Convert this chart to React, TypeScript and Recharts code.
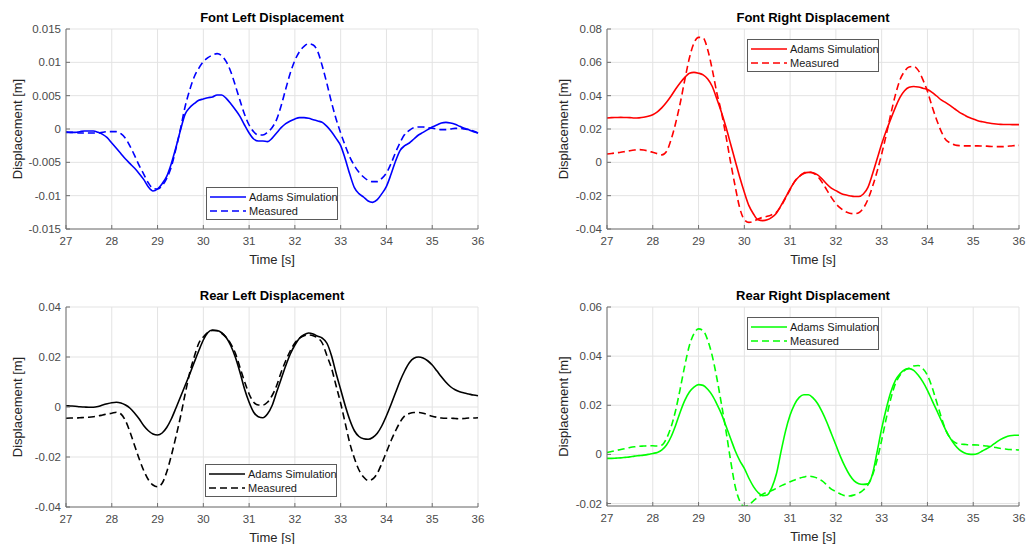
import { LineChart, Line, XAxis, YAxis, CartesianGrid, Legend } from 'recharts'

// time base, seconds
const TIME = [
  27.0, 27.1, 27.2, 27.3, 27.4, 27.5, 27.6, 27.7, 27.8, 27.9,
  28.0, 28.1, 28.2, 28.3, 28.4, 28.5, 28.6, 28.7, 28.8, 28.9,
  29.0, 29.1, 29.2, 29.3, 29.4, 29.5, 29.6, 29.7, 29.8, 29.9,
  30.0, 30.1, 30.2, 30.3, 30.4, 30.5, 30.6, 30.7, 30.8, 30.9,
  31.0, 31.1, 31.2, 31.3, 31.4, 31.5, 31.6, 31.7, 31.8, 31.9,
  32.0, 32.1, 32.2, 32.3, 32.4, 32.5, 32.6, 32.7, 32.8, 32.9,
  33.0, 33.1, 33.2, 33.3, 33.4, 33.5, 33.6, 33.7, 33.8, 33.9,
  34.0, 34.1, 34.2, 34.3, 34.4, 34.5, 34.6, 34.7, 34.8, 34.9,
  35.0, 35.1, 35.2, 35.3, 35.4, 35.5, 35.6, 35.7, 35.8, 35.9,
  36.0,
]
const X_TICKS = [27, 28, 29, 30, 31, 32, 33, 34, 35, 36]

// front left
const FL_SIM = [
  -0.0005, -0.0005, -0.0005, -0.0004, -0.0003, -0.0003, -0.0003, -0.0005, -0.0008, -0.0013,
  -0.0021, -0.0029, -0.0037, -0.0045, -0.0052, -0.0059, -0.0067, -0.0076, -0.0087, -0.0093,
  -0.009, -0.0082, -0.0071, -0.0052, -0.0028, -0.0002, 0.0022, 0.0032, 0.0038, 0.0043,
  0.0045, 0.0047, 0.0048, 0.0051, 0.0051, 0.0046, 0.0038, 0.0029, 0.0019, 0.0006,
  -0.0006, -0.0015, -0.0018, -0.0018, -0.0019, -0.0014, -0.0006, 0.0002, 0.0008, 0.0012,
  0.0015, 0.0017, 0.0017, 0.0016, 0.0014, 0.0012, 0.001, 0.0004, -0.0004, -0.0014,
  -0.0025, -0.0045, -0.0068, -0.0088, -0.0097, -0.0102, -0.0108, -0.011, -0.0106, -0.0097,
  -0.0086, -0.0068, -0.0048, -0.0032, -0.0025, -0.0021, -0.0015, -0.0009, -0.0005, -0.0001,
  0.0003, 0.0006, 0.0009, 0.001, 0.0009, 0.0007, 0.0004, 0.0001, -0.0001, -0.0004,
  -0.0006,
]
const FL_MEAS = [
  -0.0004, -0.0005, -0.0005, -0.0006, -0.0006, -0.0006, -0.0006, -0.0006, -0.0005, -0.0004,
  -0.0004, -0.0004, -0.0007, -0.0014, -0.0026, -0.004, -0.0055, -0.0068, -0.0081, -0.0089,
  -0.009, -0.0085, -0.0074, -0.0057, -0.003, 0, 0.0033, 0.0058, 0.0078, 0.0091,
  0.0101, 0.0107, 0.0111, 0.0113, 0.011, 0.0101, 0.0086, 0.0065, 0.0043, 0.0022,
  0.0006, -0.0004, -0.0009, -0.0009, -0.0005, 0.0002, 0.0014, 0.0035, 0.006, 0.0084,
  0.0103, 0.0116, 0.0124, 0.0128, 0.0126, 0.0116, 0.0094, 0.0068, 0.004, 0.0015,
  -0.0006, -0.0025, -0.0042, -0.0055, -0.0065, -0.0072, -0.0077, -0.0079, -0.0079, -0.0074,
  -0.0066, -0.0052, -0.0035, -0.002, -0.0008, -0.0002, 0.0002, 0.0003, 0.0003, 0.0002,
  0.0001, 0, -0.0001, -0.0001, 0, 0.0001, 0.0001, 0, -0.0001, -0.0003,
  -0.0006,
]
const FL_TICKS = [-0.015, -0.01, -0.005, 0, 0.005, 0.01, 0.015]

// front right
const FR_SIM = [
  0.0266, 0.0268, 0.0269, 0.027, 0.0269, 0.0268, 0.0266, 0.0267, 0.027, 0.0276,
  0.0286, 0.0303, 0.0328, 0.036, 0.0398, 0.044, 0.0478, 0.051, 0.0535, 0.054,
  0.0535, 0.0525, 0.05, 0.0455, 0.038, 0.03, 0.021, 0.011, 0.001, -0.009,
  -0.018, -0.026, -0.031, -0.0345, -0.035, -0.0345, -0.033, -0.0305, -0.026, -0.021,
  -0.016, -0.0115, -0.0085, -0.0067, -0.006, -0.0062, -0.0075, -0.01, -0.013, -0.0155,
  -0.017, -0.0185, -0.0195, -0.02, -0.0205, -0.0205, -0.019, -0.015, -0.007, 0.002,
  0.011, 0.019, 0.026, 0.033, 0.039, 0.043, 0.045, 0.0455, 0.0452, 0.0445,
  0.0437, 0.042, 0.0398, 0.0375, 0.0358, 0.034, 0.032, 0.03, 0.0285, 0.027,
  0.026, 0.025, 0.0243, 0.0237, 0.0233, 0.023, 0.0228, 0.0227, 0.0227, 0.0226,
  0.0226,
]
const FR_MEAS = [
  0.005, 0.0053, 0.0057, 0.006, 0.0065, 0.007, 0.0074, 0.0076, 0.0074, 0.0068,
  0.006, 0.0052, 0.0045, 0.0065, 0.0136, 0.0236, 0.0356, 0.0496, 0.0626, 0.0716,
  0.075, 0.0746, 0.0676, 0.0556, 0.0416, 0.03, 0.0156, 0, -0.0144, -0.0274,
  -0.0344, -0.036, -0.0354, -0.034, -0.033, -0.0324, -0.0314, -0.03, -0.0264, -0.0214,
  -0.0164, -0.0114, -0.0084, -0.0064, -0.0058, -0.0064, -0.0084, -0.012, -0.0165, -0.021,
  -0.0248, -0.0275, -0.0295, -0.0305, -0.0308, -0.0302, -0.0275, -0.0222, -0.0145, -0.0055,
  0.005, 0.0165, 0.029, 0.0405, 0.0495, 0.0546, 0.0572, 0.0576, 0.0552, 0.0496,
  0.0426, 0.0336, 0.0256, 0.0186, 0.0136, 0.0116, 0.0104, 0.01, 0.0099, 0.0099,
  0.0099, 0.0099, 0.0098, 0.0097, 0.0095, 0.0094, 0.0094, 0.0095, 0.0098, 0.01,
  0.0102,
]
const FR_TICKS = [-0.04, -0.02, 0, 0.02, 0.04, 0.06, 0.08]

// rear left
const RL_SIM = [
  0.0005, 0.0004, 0.0003, 0.0001, 0, -0.0001, -0.0001, 0.0002, 0.0008, 0.0013,
  0.0017, 0.0019, 0.0016, 0.0008, -0.0005, -0.0025, -0.0048, -0.0075, -0.0095, -0.0108,
  -0.0112, -0.0104, -0.0082, -0.0048, -0.0005, 0.004, 0.0085, 0.013, 0.0178, 0.0225,
  0.0268, 0.0298, 0.0308, 0.0306, 0.0297, 0.0278, 0.0245, 0.0199, 0.0139, 0.0072,
  0.0019, -0.0021, -0.0039, -0.0043, -0.0028, 0.0005, 0.0059, 0.0112, 0.0165, 0.0212,
  0.0248, 0.0275, 0.0289, 0.0296, 0.0292, 0.0283, 0.0275, 0.0255, 0.0205, 0.0135,
  0.007, 0.0005, -0.0052, -0.0095, -0.0118, -0.0127, -0.0129, -0.0122, -0.0105, -0.0075,
  -0.0035, 0.001, 0.0058, 0.0105, 0.0145, 0.0177, 0.0195, 0.02, 0.0196, 0.0185,
  0.0168, 0.0145, 0.0121, 0.0099, 0.0081, 0.0069, 0.0061, 0.0056, 0.0052, 0.0048,
  0.0045,
]
const RL_MEAS = [
  -0.0045, -0.0044, -0.0044, -0.0043, -0.0042, -0.0041, -0.0039, -0.0036, -0.0032, -0.0028,
  -0.0025, -0.0021, -0.0028, -0.0055, -0.0101, -0.0155, -0.0208, -0.0255, -0.0291, -0.0312,
  -0.0319, -0.0305, -0.026, -0.0195, -0.012, -0.004, 0.005, 0.0135, 0.02, 0.0255,
  0.028, 0.0298, 0.0306, 0.0305, 0.0295, 0.0278, 0.0252, 0.0215, 0.0158, 0.0102,
  0.0052, 0.0019, 0.0008, 0.0008, 0.0019, 0.0045, 0.0085, 0.0139, 0.0185, 0.0225,
  0.0256, 0.0275, 0.0285, 0.0288, 0.0285, 0.0276, 0.0255, 0.0205, 0.0155, 0.0085,
  0.0015, -0.0065, -0.0145, -0.0205, -0.0252, -0.028, -0.0294, -0.0288, -0.0265, -0.0225,
  -0.018, -0.0135, -0.0095, -0.006, -0.0035, -0.0026, -0.0022, -0.0022, -0.0025, -0.0031,
  -0.0037, -0.0041, -0.0044, -0.0045, -0.0045, -0.0046, -0.0047, -0.0046, -0.0044, -0.0044,
  -0.0043,
]
const RL_TICKS = [-0.04, -0.02, 0, 0.02, 0.04]

// rear right
const RR_SIM = [
  -0.0016, -0.0016, -0.0015, -0.0014, -0.0012, -0.001, -0.0007, -0.0005, -0.0003, 0,
  0.0004, 0.0008, 0.0018, 0.0038, 0.0072, 0.0119, 0.0173, 0.022, 0.0254, 0.0274,
  0.0284, 0.0281, 0.0265, 0.024, 0.0205, 0.0165, 0.0115, 0.0065, 0.0015, -0.0025,
  -0.0057, -0.0097, -0.0131, -0.0155, -0.0168, -0.0165, -0.0135, -0.008, 0.001, 0.0095,
  0.016, 0.0205, 0.0232, 0.0243, 0.0243, 0.023, 0.0207, 0.0173, 0.0132, 0.0085,
  0.0038, -0.0009, -0.005, -0.0084, -0.0108, -0.0119, -0.0122, -0.012, -0.008, 0.001,
  0.0105, 0.0186, 0.0254, 0.0301, 0.0328, 0.0345, 0.0349, 0.0342, 0.0322, 0.0295,
  0.0261, 0.022, 0.018, 0.0139, 0.0099, 0.0065, 0.0038, 0.0018, 0.0007, 0.0001,
  0, 0.0004, 0.0014, 0.0024, 0.0035, 0.0049, 0.0061, 0.007, 0.0076, 0.0078,
  0.0078,
]
const RR_MEAS = [
  0.0008, 0.0012, 0.0016, 0.002, 0.0024, 0.0028, 0.0031, 0.0033, 0.0034, 0.0035,
  0.0035, 0.0034, 0.0038, 0.0065, 0.0112, 0.018, 0.0268, 0.0362, 0.0443, 0.0491,
  0.0511, 0.0504, 0.0465, 0.04, 0.031, 0.0205, 0.0095, -0.0025, -0.013, -0.019,
  -0.0212, -0.0205, -0.0189, -0.0174, -0.0162, -0.0154, -0.0147, -0.0138, -0.0128, -0.012,
  -0.0111, -0.0104, -0.0097, -0.0092, -0.0088, -0.0091, -0.0097, -0.0108, -0.0124, -0.0141,
  -0.0151, -0.0161, -0.0168, -0.0169, -0.0165, -0.0158, -0.0145, -0.0124, -0.0084, -0.0023,
  0.0058, 0.0146, 0.0227, 0.0288, 0.0322, 0.0342, 0.0351, 0.036, 0.0362, 0.0349,
  0.0322, 0.0274, 0.0214, 0.0153, 0.0099, 0.0065, 0.0049, 0.0042, 0.0041, 0.0039,
  0.0039, 0.0038, 0.0036, 0.0034, 0.0031, 0.0028, 0.0024, 0.0022, 0.002, 0.0019,
  0.0018,
]
const RR_TICKS = [-0.02, 0, 0.02, 0.04, 0.06]

const FONT = '"Liberation Sans", Arial, Helvetica, sans-serif'
const AXIS = '#707070'
const GRID = '#e3e3e3'
const TEXT = '#262626'
const PLOT_W = 412

// boxed legend, line sample + name per row
function LegendBox({ payload }: any) {
  return (
    <div
      style={{
        width: 132, height: 33, boxSizing: 'border-box', border: '1px solid #5a5a5a',
        background: '#fff', fontFamily: FONT, fontSize: 11, color: '#1a1a1a', padding: '2px 0 0 3px',
      }}
    >
      {(payload ?? []).map((entry: any) => (
        <div key={entry.value} style={{ display: 'flex', alignItems: 'center', height: 14 }}>
          <svg width={36} height={4} style={{ marginRight: 3, flex: 'none' }}>
            <line
              x1={0} y1={2} x2={36} y2={2} stroke={entry.color} strokeWidth={1.6}
              strokeDasharray={entry.payload?.strokeDasharray}
            />
          </svg>
          <span style={{ whiteSpace: 'nowrap' }}>{entry.value}</span>
        </div>
      ))}
    </div>
  )
}

type PanelProps = {
  title: string
  color: string
  sim: number[]
  meas: number[]
  yTicks: number[]
  yDomain: [number, number]
  x: number
  y: number
  margin: { top: number; right: number; bottom: number; left: number }
  legendAt: { left: number; top: number }
  yLabelOffset: number
}

function Panel(p: PanelProps) {
  const data = TIME.map((t, i) => ({ t, sim: p.sim[i], meas: p.meas[i] }))
  const tick = { fill: '#4a4a4a', fontSize: 11.5, fontFamily: FONT }
  const plotLeft = p.margin.left + 60
  return (
    <div style={{ position: 'absolute', left: p.x, top: p.y, width: 513, height: 272 }}>
      <div
        style={{
          position: 'absolute', left: plotLeft, top: p.margin.top - 19, width: PLOT_W,
          textAlign: 'center', fontFamily: FONT, fontSize: 13, fontWeight: 'bold',
          lineHeight: '15px', color: '#000', whiteSpace: 'nowrap',
        }}
      >
        {p.title}
      </div>
      <LineChart width={513} height={272} data={data} margin={p.margin}>
        <CartesianGrid stroke={GRID} />
        <XAxis
          dataKey="t" type="number" domain={[27, 36]} ticks={X_TICKS} height={35}
          tickSize={-4} tickMargin={12} stroke={AXIS} tick={tick}
          label={{ value: 'Time [s]', position: 'insideBottom', offset: 0, fill: TEXT, fontSize: 13, fontFamily: FONT }}
        />
        <XAxis
          xAxisId="top" orientation="top" type="number" domain={[27, 36]} ticks={X_TICKS}
          height={0} tick={false} tickSize={-4} stroke={AXIS}
        />
        <YAxis
          type="number" domain={p.yDomain} ticks={p.yTicks} width={60} allowDataOverflow
          tickSize={-4} tickMargin={9} stroke={AXIS} tick={tick}
          label={{
            value: 'Displacement [m]', angle: -90, position: 'insideLeft', offset: p.yLabelOffset,
            fill: TEXT, fontSize: 13, fontFamily: FONT, style: { textAnchor: 'middle' },
          }}
        />
        <YAxis
          yAxisId="right" orientation="right" type="number" domain={p.yDomain} ticks={p.yTicks}
          width={0} tick={false} tickSize={-4} stroke={AXIS} allowDataOverflow
        />
        <Line
          type="monotone" dataKey="sim" name="Adams Simulation" stroke={p.color}
          strokeWidth={1.6} dot={false} isAnimationActive={false}
        />
        <Line
          type="monotone" dataKey="meas" name="Measured" stroke={p.color}
          strokeWidth={1.6} strokeDasharray="7 4" dot={false} isAnimationActive={false}
        />
        <Legend
          layout="horizontal" verticalAlign="middle" align="center"
          wrapperStyle={{ left: p.legendAt.left, top: p.legendAt.top, width: 132, height: 33 }}
          content={(props: any) => <LegendBox {...props} />}
        />
      </LineChart>
    </div>
  )
}

export default function App() {
  return (
    <div style={{ position: 'absolute', left: 0, top: 0, width: 1026, height: 544, background: '#fff' }}>
      <Panel
        title="Font Left Displacement" color="#0000ff" sim={FL_SIM} meas={FL_MEAS}
        yTicks={FL_TICKS} yDomain={[-0.015, 0.015]} x={0} y={0}
        margin={{ top: 29, right: 35, bottom: 8, left: 6 }}
        legendAt={{ left: 206, top: 187 }} yLabelOffset={11}
      />
      <Panel
        title="Font Right Displacement" color="#ff0000" sim={FR_SIM} meas={FR_MEAS}
        yTicks={FR_TICKS} yDomain={[-0.04, 0.08]} x={513} y={0}
        margin={{ top: 29, right: 7, bottom: 8, left: 34 }}
        legendAt={{ left: 234, top: 39 }} yLabelOffset={16}
      />
      <Panel
        title="Rear Left Displacement" color="#000000" sim={RL_SIM} meas={RL_MEAS}
        yTicks={RL_TICKS} yDomain={[-0.04, 0.04]} x={0} y={272}
        margin={{ top: 35, right: 35, bottom: 2, left: 6 }}
        legendAt={{ left: 205, top: 192 }} yLabelOffset={11}
      />
      <Panel
        title="Rear Right Displacement" color="#00ff00" sim={RR_SIM} meas={RR_MEAS}
        yTicks={RR_TICKS} yDomain={[-0.021, 0.06]} x={513} y={272}
        margin={{ top: 35, right: 7, bottom: 3, left: 34 }}
        legendAt={{ left: 234, top: 45 }} yLabelOffset={16}
      />
    </div>
  )
}
